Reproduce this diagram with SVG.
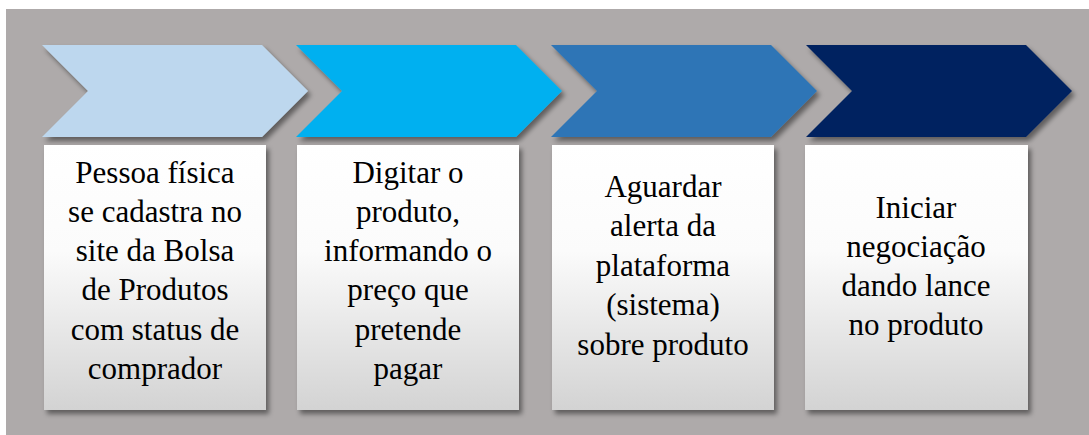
<svg xmlns="http://www.w3.org/2000/svg" width="1089" height="435" viewBox="0 0 1089 435">
<defs>
<filter id="sh" x="-10%" y="-10%" width="125%" height="130%">
<feDropShadow dx="3" dy="4" stdDeviation="2.5" flood-color="#000" flood-opacity="0.45"/>
</filter>
<linearGradient id="bg" x1="0" y1="0" x2="0" y2="1">
<stop offset="0" stop-color="#ffffff"/>
<stop offset="0.4" stop-color="#fbfbfb"/>
<stop offset="1" stop-color="#d3d3d3"/>
</linearGradient>
</defs>
<rect x="6" y="9" width="1083" height="426" fill="#AEAAAA"/>
<g id="step1">
<path filter="url(#sh)" d="M42,45 H262 L308,91 L262,137 H42 L88,91 Z" fill="#BDD7EE"/>
<rect filter="url(#sh)" fill="url(#bg)" x="44" y="145" width="222" height="265"/>
</g>
<g id="step2">
<path filter="url(#sh)" d="M296,45 H516 L562,91 L516,137 H296 L342,91 Z" fill="#00B0F0"/>
<rect filter="url(#sh)" fill="url(#bg)" x="297" y="145" width="222" height="265"/>
</g>
<g id="step3">
<path filter="url(#sh)" d="M551,45 H771 L817,91 L771,137 H551 L597,91 Z" fill="#2E75B6"/>
<rect filter="url(#sh)" fill="url(#bg)" x="552" y="145" width="222" height="265"/>
</g>
<g id="step4">
<path filter="url(#sh)" d="M806,45 H1026 L1072,91 L1026,137 H806 L852,91 Z" fill="#002060"/>
<rect filter="url(#sh)" fill="url(#bg)" x="805" y="145" width="223" height="265"/>
</g>
<g id="labels">
<text font-family="Liberation Serif" font-size="31" text-anchor="middle" x="155" y="183">Pessoa física</text>
<text font-family="Liberation Serif" font-size="31" text-anchor="middle" x="155" y="222">se cadastra no</text>
<text font-family="Liberation Serif" font-size="31" text-anchor="middle" x="155" y="261">site da Bolsa</text>
<text font-family="Liberation Serif" font-size="31" text-anchor="middle" x="155" y="300">de Produtos</text>
<text font-family="Liberation Serif" font-size="31" text-anchor="middle" x="155" y="340">com status de</text>
<text font-family="Liberation Serif" font-size="31" text-anchor="middle" x="155" y="379">comprador</text>
<text font-family="Liberation Serif" font-size="31" text-anchor="middle" x="408" y="183">Digitar o</text>
<text font-family="Liberation Serif" font-size="31" text-anchor="middle" x="408" y="222">produto,</text>
<text font-family="Liberation Serif" font-size="31" text-anchor="middle" x="408" y="261">informando o</text>
<text font-family="Liberation Serif" font-size="31" text-anchor="middle" x="408" y="300">preço que</text>
<text font-family="Liberation Serif" font-size="31" text-anchor="middle" x="408" y="340">pretende</text>
<text font-family="Liberation Serif" font-size="31" text-anchor="middle" x="408" y="379">pagar</text>
<text font-family="Liberation Serif" font-size="31" text-anchor="middle" x="663" y="197">Aguardar</text>
<text font-family="Liberation Serif" font-size="31" text-anchor="middle" x="663" y="236">alerta da</text>
<text font-family="Liberation Serif" font-size="31" text-anchor="middle" x="663" y="276">plataforma</text>
<text font-family="Liberation Serif" font-size="31" text-anchor="middle" x="663" y="315">(sistema)</text>
<text font-family="Liberation Serif" font-size="31" text-anchor="middle" x="663" y="355">sobre produto</text>
<text font-family="Liberation Serif" font-size="31" text-anchor="middle" x="916" y="218">Iniciar</text>
<text font-family="Liberation Serif" font-size="31" text-anchor="middle" x="916" y="257">negociação</text>
<text font-family="Liberation Serif" font-size="31" text-anchor="middle" x="916" y="296">dando lance</text>
<text font-family="Liberation Serif" font-size="31" text-anchor="middle" x="916" y="335">no produto</text>
</g>
<g id="connectors"/>
</svg>
